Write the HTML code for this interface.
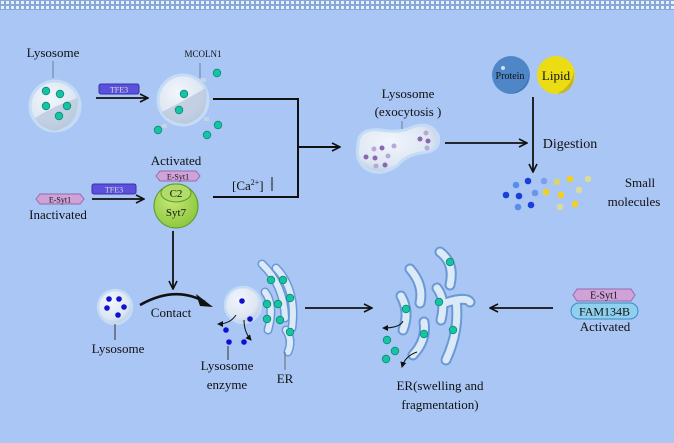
<!DOCTYPE html>
<html><head><meta charset="utf-8"><style>
html,body{margin:0;padding:0;background:#a9c6f5;}
svg{display:block;font-family:"Liberation Serif",serif;}
</style></head><body>
<svg width="674" height="443" viewBox="0 0 674 443" xmlns="http://www.w3.org/2000/svg">
<defs>
<pattern id="chk" width="5" height="5" patternUnits="userSpaceOnUse">
<rect width="5" height="5" fill="#87a8dc"/><rect x="1" y="1" width="3" height="3" fill="#e8f0fc"/>
</pattern>
<marker id="ah" markerWidth="10" markerHeight="10" refX="9" refY="5" orient="auto" markerUnits="userSpaceOnUse">
<path d="M1,1 L9,5 L1,9" fill="none" stroke="#111" stroke-width="1.6"/>
</marker>
<marker id="sa" markerWidth="6" markerHeight="6" refX="5" refY="3" orient="auto" markerUnits="userSpaceOnUse">
<path d="M0,0 L6,3 L0,6z" fill="#111"/>
</marker>
<radialGradient id="lys" cx="0.4" cy="0.35" r="0.7"><stop offset="0" stop-color="#f2f6fc"/><stop offset="0.7" stop-color="#dde6f2"/><stop offset="1" stop-color="#b8c8e0"/></radialGradient>
<radialGradient id="grn" cx="0.4" cy="0.35" r="0.7"><stop offset="0" stop-color="#c6e87a"/><stop offset="1" stop-color="#8cc63a"/></radialGradient>
<g id="ca"><circle r="3.8" fill="#17c3a3" stroke="#0a8c77" stroke-width="0.8"/></g>
</defs>
<rect width="674" height="443" fill="#a9c6f5"/>
<rect width="674" height="10" fill="url(#chk)"/>

<g font-size="13" fill="#111">
<text x="53" y="57" text-anchor="middle">Lysosome</text>
<line x1="53" y1="61" x2="53" y2="78" stroke="#6a7fa0"/>
<circle cx="55" cy="106" r="25" fill="url(#lys)" stroke="#c4dcf6" stroke-width="3"/>
<path d="M35,118 Q55,105 78,98 Q78,125 55,131 Q40,128 35,118z" fill="#b7c4da" opacity="0.7"/>
<use href="#ca" x="46" y="91"/><use href="#ca" x="60" y="94"/><use href="#ca" x="46" y="106"/><use href="#ca" x="67" y="106"/><use href="#ca" x="59" y="116"/>

<rect x="99" y="84" width="40" height="10" rx="2" fill="#5a50dc" stroke="#3a30a8"/>
<text x="119" y="92.5" text-anchor="middle" font-size="8" fill="#ddd">TFE3</text>
<line x1="96" y1="98" x2="148" y2="98" stroke="#111" stroke-width="1.8" marker-end="url(#ah)"/>

<text x="203" y="57" text-anchor="middle" font-size="9">MCOLN1</text>
<line x1="200" y1="63" x2="200" y2="78" stroke="#6a7fa0"/>
<circle cx="183" cy="100" r="25" fill="url(#lys)" stroke="#c4dcf6" stroke-width="3"/>
<path d="M162,112 Q185,100 206,88 Q210,118 185,124 Q168,122 162,112z" fill="#b7c4da" opacity="0.7"/>
<use href="#ca" x="184" y="94"/><use href="#ca" x="179" y="110"/>
<use href="#ca" x="217" y="73"/><use href="#ca" x="158" y="130"/><use href="#ca" x="207" y="135"/><use href="#ca" x="218" y="125"/>
<rect x="201" y="78" width="5" height="4" fill="#c8d4e4"/><rect x="162" y="124" width="5" height="4" fill="#c8d4e4"/><rect x="204" y="117" width="5" height="4" fill="#c8d4e4"/>

<polyline points="213,99 298,99 298,197 213,197" fill="none" stroke="#111" stroke-width="2"/>
<line x1="298" y1="147" x2="340" y2="147" stroke="#111" stroke-width="2" marker-end="url(#ah)"/>
<text x="232" y="190" font-size="13">[Ca<tspan font-size="8" dy="-5">2+</tspan><tspan dy="5">]</tspan></text>
<line x1="272" y1="177" x2="272" y2="191" stroke="#111"/>

<text x="176" y="165" text-anchor="middle">Activated</text>
<polygon points="156,176 160,171 196,171 200,176 196,181 160,181" fill="#cfa2d8" stroke="#9a6aaa"/>
<text x="178" y="179.5" text-anchor="middle" font-size="8">E-Syt1</text>
<circle cx="176" cy="206" r="22" fill="url(#grn)" stroke="#5a9a2a"/>
<ellipse cx="176" cy="193" rx="15" ry="9" fill="#b2dc68" stroke="#5a9a2a"/>
<text x="176" y="197" text-anchor="middle" font-size="11">C2</text>
<text x="176" y="216" text-anchor="middle" font-size="11">Syt7</text>

<polygon points="36,199 40,194 80,194 84,199 80,204 40,204" fill="#cfa2d8" stroke="#9a6aaa"/>
<text x="60" y="202.5" text-anchor="middle" font-size="8">E-Syt1</text>
<text x="58" y="219" text-anchor="middle">Inactivated</text>
<rect x="92" y="184" width="44" height="10" rx="2" fill="#5a50dc" stroke="#3a30a8"/>
<text x="114" y="192.5" text-anchor="middle" font-size="8" fill="#ddd">TFE3</text>
<line x1="92" y1="199" x2="144" y2="199" stroke="#111" stroke-width="1.8" marker-end="url(#ah)"/>

<line x1="173" y1="231" x2="173" y2="289" stroke="#111" stroke-width="1.8" marker-end="url(#ah)"/>

<circle cx="115" cy="307" r="17" fill="url(#lys)" stroke="#c4dcf6" stroke-width="2.5"/>
<g fill="#1010d0"><circle cx="109" cy="299" r="2.8"/><circle cx="119" cy="299" r="2.8"/><circle cx="107" cy="308" r="2.8"/><circle cx="124" cy="307" r="2.8"/><circle cx="118" cy="315" r="2.8"/></g>
<line x1="115" y1="324" x2="115" y2="340" stroke="#333"/>
<text x="118" y="353" text-anchor="middle">Lysosome</text>
<path d="M140,305 Q175,285 205,302" fill="none" stroke="#111" stroke-width="2.5"/>
<path d="M196,294 L213,307 L200,306z" fill="#111"/>
<text x="171" y="317" text-anchor="middle">Contact</text>

<circle cx="243" cy="305" r="18" fill="url(#lys)" stroke="#c4dcf6" stroke-width="2.5"/>
<g fill="#1010d0"><circle cx="242" cy="301" r="2.8"/><circle cx="250" cy="319" r="2.8"/><circle cx="226" cy="330" r="2.8"/><circle cx="229" cy="342" r="2.8"/><circle cx="244" cy="342" r="2.8"/></g>
<path d="M236,315 Q230,324 218,324" fill="none" stroke="#111" marker-end="url(#sa)"/>
<path d="M244,320 Q244,332 251,340" fill="none" stroke="#111" marker-end="url(#sa)"/>
<line x1="228" y1="346" x2="228" y2="360" stroke="#333"/>
<text x="227" y="370" text-anchor="middle">Lysosome</text>
<text x="227" y="389" text-anchor="middle">enzyme</text>

<g fill="none" stroke-linecap="round">
<g stroke="#6a9ad6" stroke-width="9">
<path d="M262,264 Q284,285 285,318"/><path d="M276,268 Q297,290 292,328"/><path d="M265,292 Q275,305 268,330"/><path d="M286,330 Q293,340 288,352"/>
</g>
<g stroke="#dceaf8" stroke-width="6">
<path d="M262,264 Q284,285 285,318"/><path d="M276,268 Q297,290 292,328"/><path d="M265,292 Q275,305 268,330"/><path d="M286,330 Q293,340 288,352"/>
</g>
</g>
<use href="#ca" x="271" y="280"/><use href="#ca" x="283" y="280"/><use href="#ca" x="290" y="298"/><use href="#ca" x="267" y="304"/><use href="#ca" x="278" y="304"/><use href="#ca" x="267" y="319"/><use href="#ca" x="280" y="320"/><use href="#ca" x="290" y="332"/>
<line x1="285" y1="352" x2="285" y2="370" stroke="#666"/>
<text x="285" y="383" text-anchor="middle">ER</text>

<line x1="305" y1="308" x2="372" y2="308" stroke="#111" stroke-width="1.8" marker-end="url(#ah)"/>

<g fill="none" stroke-linecap="round">
<g stroke="#6a9ad6" stroke-width="11">
<path d="M440,252 Q455,263 450,285"/><path d="M410,269 Q424,285 420,303"/><path d="M401,296 Q410,312 403,330"/><path d="M437,288 Q446,300 441,320"/><path d="M445,303 Q466,296 470,302"/><path d="M456,300 Q460,330 446,360"/><path d="M424,322 Q427,340 413,355"/>
</g>
<g stroke="#dceaf8" stroke-width="7">
<path d="M440,252 Q455,263 450,285"/><path d="M410,269 Q424,285 420,303"/><path d="M401,296 Q410,312 403,330"/><path d="M437,288 Q446,300 441,320"/><path d="M445,303 Q466,296 470,302"/><path d="M456,300 Q460,330 446,360"/><path d="M424,322 Q427,340 413,355"/>
</g>
</g>
<use href="#ca" x="450" y="262"/><use href="#ca" x="439" y="302"/><use href="#ca" x="406" y="309"/><use href="#ca" x="424" y="334"/><use href="#ca" x="453" y="330"/>
<use href="#ca" x="387" y="340"/><use href="#ca" x="395" y="351"/><use href="#ca" x="386" y="359"/>
<path d="M403,321 Q400,328 383,328" fill="none" stroke="#111" marker-end="url(#sa)"/>
<path d="M417,352 Q405,356 402,367" fill="none" stroke="#111" marker-end="url(#sa)"/>
<text x="440" y="390" text-anchor="middle">ER(swelling and</text>
<text x="440" y="409" text-anchor="middle">fragmentation)</text>

<line x1="553" y1="308" x2="490" y2="308" stroke="#111" stroke-width="1.8" marker-end="url(#ah)"/>
<polygon points="573,295 577,289 631,289 635,295 631,301 577,301" fill="#cfa2d8" stroke="#9a6aaa"/>
<text x="604" y="298.5" text-anchor="middle" font-size="10">E-Syt1</text>
<rect x="571" y="303" width="67" height="16" rx="8" fill="#8fd0ee" stroke="#3a8ac4"/>
<text x="604.5" y="315.5" text-anchor="middle" font-size="12">FAM134B</text>
<text x="605" y="331" text-anchor="middle">Activated</text>

<text x="408" y="98" text-anchor="middle">Lysosome</text>
<text x="408" y="116" text-anchor="middle">(exocytosis )</text>
<line x1="402" y1="121" x2="402" y2="138" stroke="#6a7fa0"/>
<path d="M358,145 Q358,128 380,130 Q400,133 410,128 Q430,120 438,135 Q442,152 420,153 Q405,156 398,165 Q380,178 365,168 Q355,160 358,145z" fill="url(#lys)" stroke="#c4dcf6" stroke-width="3"/>
<g fill="#8a68b0"><circle cx="366" cy="157" r="2.5"/><circle cx="382" cy="148" r="2.5"/><circle cx="375" cy="158" r="2.5"/><circle cx="385" cy="165" r="2.5"/><circle cx="420" cy="139" r="2.5"/><circle cx="428" cy="141" r="2.5"/></g>
<g fill="#b8a8d8"><circle cx="374" cy="149" r="2.5"/><circle cx="394" cy="146" r="2.5"/><circle cx="388" cy="156" r="2.5"/><circle cx="376" cy="166" r="2.5"/><circle cx="426" cy="133" r="2.5"/><circle cx="427" cy="148" r="2.5"/></g>
<line x1="445" y1="143" x2="527" y2="143" stroke="#111" stroke-width="1.8" marker-end="url(#ah)"/>

<circle cx="511" cy="75" r="19" fill="#4f86c8"/><path d="M520,90 Q530,82 529,70 Q531,90 512,94z" fill="#3f72b0"/>
<circle cx="503" cy="68" r="2" fill="#cfe0f4"/>
<text x="510" y="79" text-anchor="middle" font-size="10">Protein</text>
<circle cx="556" cy="75" r="19" fill="#ecdc14"/><path d="M560,92 Q572,85 574,70 Q576,92 558,94z" fill="#c8b820"/>
<text x="556" y="80" text-anchor="middle" font-size="13">Lipid</text>
<line x1="533" y1="97" x2="533" y2="172" stroke="#111" stroke-width="1.8" marker-end="url(#ah)"/>
<text x="570" y="148" text-anchor="middle" font-size="14">Digestion</text>

<circle cx="516" cy="185" r="3.3" fill="#5b8de8"/><circle cx="528" cy="181" r="3.3" fill="#1a3fd8"/><circle cx="544" cy="181" r="3.3" fill="#7aa0ee"/><circle cx="557" cy="182" r="3.3" fill="#d9d36e"/><circle cx="570" cy="179" r="3.3" fill="#f0d020"/><circle cx="588" cy="179" r="3.3" fill="#d8dc9a"/>
<circle cx="506" cy="195" r="3.3" fill="#1a3fd8"/><circle cx="519" cy="196" r="3.3" fill="#1a3fd8"/><circle cx="535" cy="193" r="3.3" fill="#6c94e8"/><circle cx="546" cy="192" r="3.3" fill="#f0d020"/><circle cx="561" cy="195" r="3.3" fill="#f0d020"/><circle cx="579" cy="190" r="3.3" fill="#d8dc9a"/>
<circle cx="518" cy="207" r="3.3" fill="#5b8de8"/><circle cx="531" cy="205" r="3.3" fill="#1a3fd8"/><circle cx="560" cy="207" r="3.3" fill="#d8dc9a"/><circle cx="575" cy="204" r="3.3" fill="#f0d020"/>
<text x="640" y="187" text-anchor="middle">Small</text>
<text x="634" y="206" text-anchor="middle">molecules</text>
</g>
</svg>
</body></html>
